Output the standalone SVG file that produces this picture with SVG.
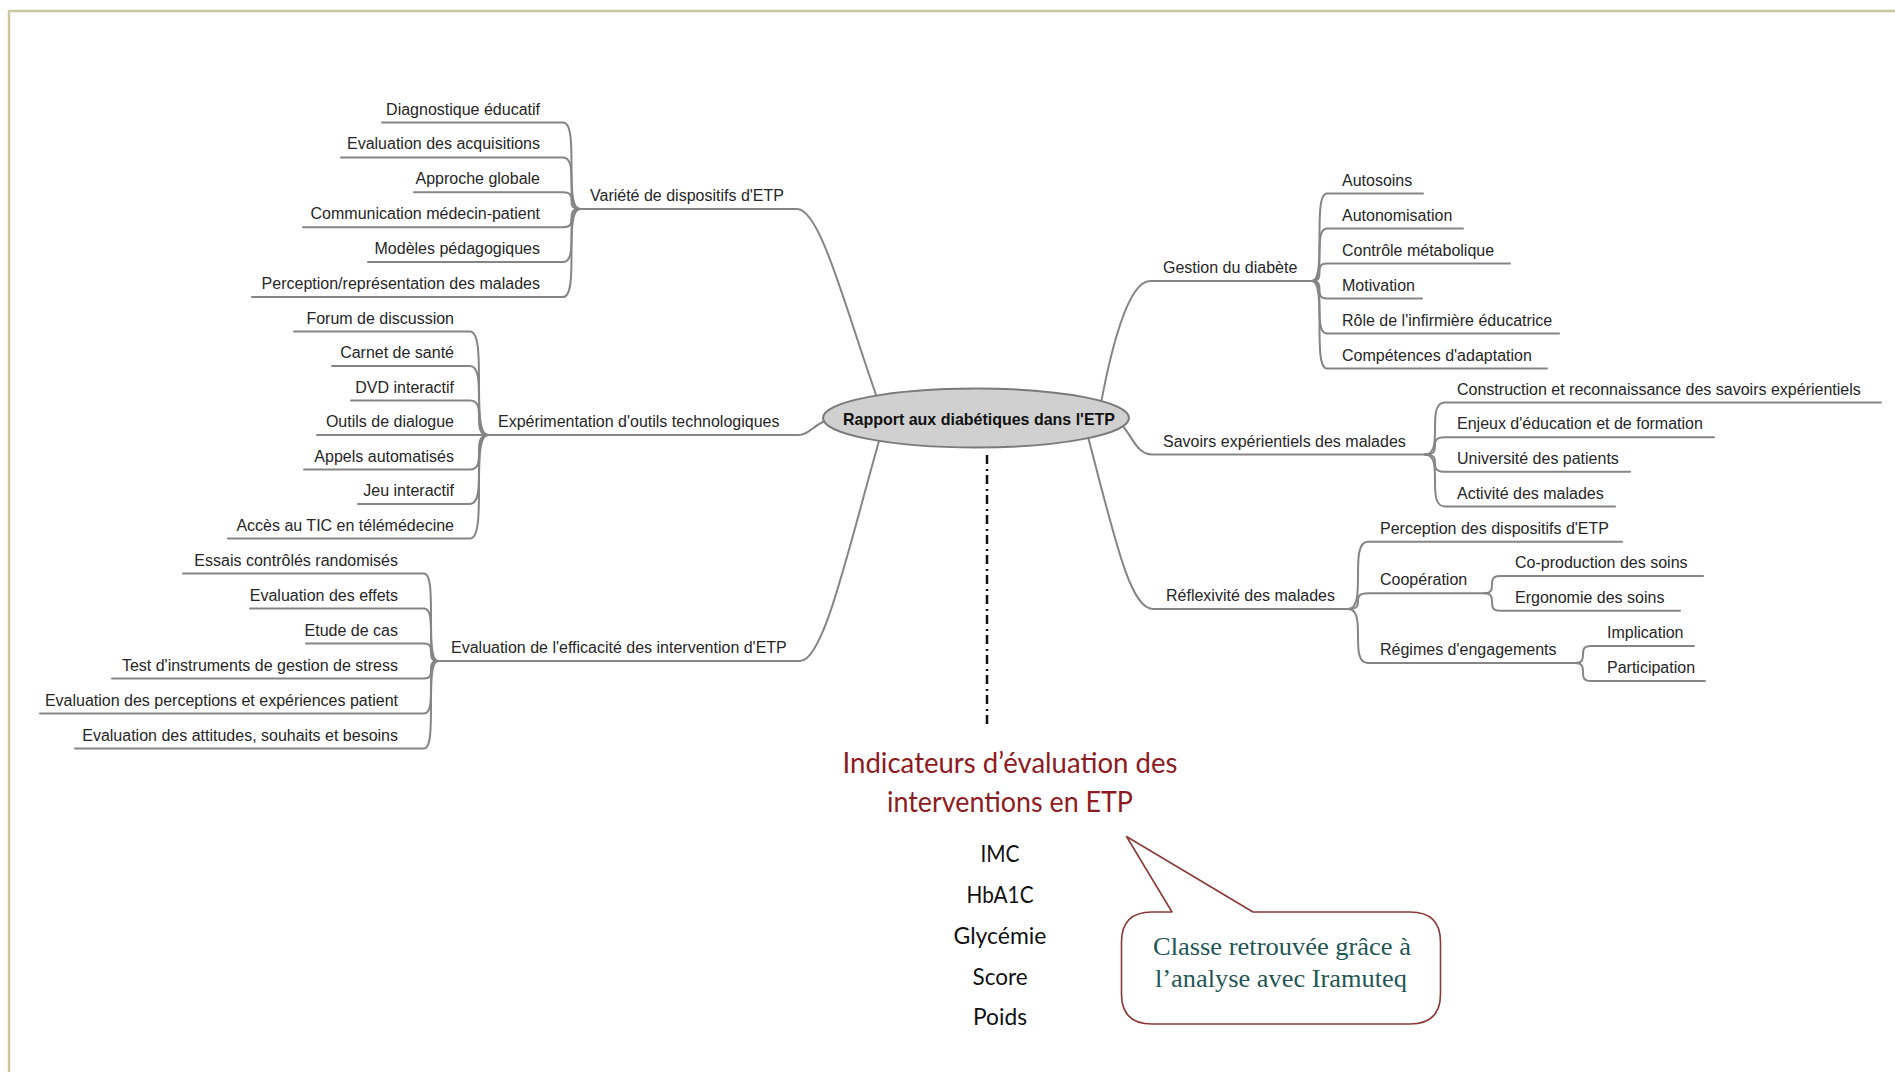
<svg xmlns="http://www.w3.org/2000/svg" width="1895" height="1072" viewBox="0 0 1895 1072">
<style>
.ln{fill:none;stroke:#858585;stroke-width:2;stroke-linecap:round}
.t{font-family:"Liberation Sans",Arial,sans-serif;font-size:16px;fill:#262626}
.e{text-anchor:end}
.root{font-family:"Liberation Sans",Arial,sans-serif;font-size:17px;font-weight:bold;fill:#111;text-anchor:middle}
.ind{font-family:Lato,"Open Sans",sans-serif;font-size:24px;fill:#111;text-anchor:middle}
.ttl{font-family:Lato,"Open Sans",sans-serif;font-size:28px;fill:#8e1b22;text-anchor:middle}
.cal{font-family:"Liberation Serif","Times New Roman",serif;font-size:26px;fill:#1f5656;text-anchor:middle}
</style>
<rect width="1895" height="1072" fill="#ffffff"/>
<polyline points="9,1072 9,11 1895,11" fill="none" stroke="#cdc7a3" stroke-width="2.5"/>

<g id="connectors">
<path class="ln" d="M580 209 H797 C822 209 848 320 885 420"/>
<path class="ln" d="M488 435 H798 C812 435 815 419 840 418"/>
<path class="ln" d="M438 661 H800 C825 661 850 540 885 420"/>
<path class="ln" d="M1098 420 C1110 350 1128 281 1150 281 H1312"/>
<path class="ln" d="M1110 418 C1130 422 1132 454.5 1152 454.5 H1425"/>
<path class="ln" d="M1085 425 C1115 540 1130 609 1153 609 H1348"/>
<path class="ln" d="M382 122.5 H563 C580 122.5 563 209 580 209"/>
<path class="ln" d="M341 157.4 H563 C580 157.4 563 209 580 209"/>
<path class="ln" d="M414 192.3 H563 C580 192.3 563 209 580 209"/>
<path class="ln" d="M303 227.2 H563 C580 227.2 563 209 580 209"/>
<path class="ln" d="M368 262.1 H563 C580 262.1 563 209 580 209"/>
<path class="ln" d="M252 297 H563 C580 297 563 209 580 209"/>
<path class="ln" d="M294 331.5 H470 C488 331.5 470 435 488 435"/>
<path class="ln" d="M332 366 H470 C488 366 470 435 488 435"/>
<path class="ln" d="M351 400.5 H470 C488 400.5 470 435 488 435"/>
<path class="ln" d="M317 435 H488"/>
<path class="ln" d="M304 469.5 H470 C488 469.5 470 435 488 435"/>
<path class="ln" d="M358 504 H470 C488 504 470 435 488 435"/>
<path class="ln" d="M228 538.5 H470 C488 538.5 470 435 488 435"/>
<path class="ln" d="M183 573.5 H424 C438 573.5 424 661 438 661"/>
<path class="ln" d="M250 608.5 H424 C438 608.5 424 661 438 661"/>
<path class="ln" d="M306 643.5 H424 C438 643.5 424 661 438 661"/>
<path class="ln" d="M112 678.5 H424 C438 678.5 424 661 438 661"/>
<path class="ln" d="M40 713.5 H424 C438 713.5 424 661 438 661"/>
<path class="ln" d="M75 748.5 H424 C438 748.5 424 661 438 661"/>
<path class="ln" d="M1312 281 C1327 281 1312 193.5 1327 193.5 H1423"/>
<path class="ln" d="M1312 281 C1327 281 1312 228.5 1327 228.5 H1463"/>
<path class="ln" d="M1312 281 C1327 281 1312 263.5 1327 263.5 H1510"/>
<path class="ln" d="M1312 281 C1327 281 1312 298.5 1327 298.5 H1422"/>
<path class="ln" d="M1312 281 C1327 281 1312 333.5 1327 333.5 H1559"/>
<path class="ln" d="M1312 281 C1327 281 1312 368.5 1327 368.5 H1547"/>
<path class="ln" d="M1425 454.5 C1445 454.5 1425 402.5 1445 402.5 H1881"/>
<path class="ln" d="M1425 454.5 C1445 454.5 1425 437.2 1445 437.2 H1714"/>
<path class="ln" d="M1425 454.5 C1445 454.5 1425 471.8 1445 471.8 H1630"/>
<path class="ln" d="M1425 454.5 C1445 454.5 1425 506.5 1445 506.5 H1615"/>
<path class="ln" d="M1348 609 C1368 609 1348 541.7 1368 541.7 H1622"/>
<path class="ln" d="M1348 609 C1368 609 1348 593.3 1368 593.3 H1484"/>
<path class="ln" d="M1348 609 C1368 609 1348 663 1368 663 H1575"/>
<path class="ln" d="M1484 593.3 C1500 593.3 1484 576 1500 576 H1703"/>
<path class="ln" d="M1484 593.3 C1500 593.3 1484 610.7 1500 610.7 H1680"/>
<path class="ln" d="M1575 663 C1591 663 1575 646 1591 646 H1694"/>
<path class="ln" d="M1575 663 C1591 663 1575 681 1591 681 H1705"/>
<line x1="987" y1="455" x2="987" y2="727" stroke="#111" stroke-width="2.5" stroke-dasharray="9 5 2 4"/>
</g>

<g id="root">
<ellipse cx="976" cy="418" rx="153" ry="29.5" fill="#d0d0d0" stroke="#7a7a7a" stroke-width="2"/>
<text class="root" x="979" y="425" textLength="272" lengthAdjust="spacingAndGlyphs">Rapport aux diabétiques dans l'ETP</text>
</g>

<g id="n-variete"><text class="t" x="590" y="201">Variété de dispositifs d'ETP</text></g>
<g id="n-diag"><text class="t e" x="540" y="114.5">Diagnostique éducatif</text></g>
<g id="n-evalacq"><text class="t e" x="540" y="149.4">Evaluation des acquisitions</text></g>
<g id="n-approche"><text class="t e" x="540" y="184.3">Approche globale</text></g>
<g id="n-comm"><text class="t e" x="540" y="219.2">Communication médecin-patient</text></g>
<g id="n-modeles"><text class="t e" x="540" y="254.1">Modèles pédagogiques</text></g>
<g id="n-percrep"><text class="t e" x="540" y="289">Perception/représentation des malades</text></g>

<g id="n-experim"><text class="t" x="498" y="427">Expérimentation d'outils technologiques</text></g>
<g id="n-forum"><text class="t e" x="454" y="323.5">Forum de discussion</text></g>
<g id="n-carnet"><text class="t e" x="454" y="358">Carnet de santé</text></g>
<g id="n-dvd"><text class="t e" x="454" y="392.5">DVD interactif</text></g>
<g id="n-outils"><text class="t e" x="454" y="427">Outils de dialogue</text></g>
<g id="n-appels"><text class="t e" x="454" y="461.5">Appels automatisés</text></g>
<g id="n-jeu"><text class="t e" x="454" y="496">Jeu interactif</text></g>
<g id="n-tic"><text class="t e" x="454" y="530.5">Accès au TIC en télémédecine</text></g>

<g id="n-evaleff"><text class="t" x="451" y="653">Evaluation de l'efficacité des intervention d'ETP</text></g>
<g id="n-essais"><text class="t e" x="398" y="565.5">Essais contrôlés randomisés</text></g>
<g id="n-effets"><text class="t e" x="398" y="600.5">Evaluation des effets</text></g>
<g id="n-etude"><text class="t e" x="398" y="635.5">Etude de cas</text></g>
<g id="n-test"><text class="t e" x="398" y="670.5">Test d'instruments de gestion de stress</text></g>
<g id="n-evalperc"><text class="t e" x="398" y="705.5">Evaluation des perceptions et expériences patient</text></g>
<g id="n-evalatt"><text class="t e" x="398" y="740.5">Evaluation des attitudes, souhaits et besoins</text></g>

<g id="n-gestion"><text class="t" x="1163" y="273">Gestion du diabète</text></g>
<g id="n-autosoins"><text class="t" x="1342" y="185.5">Autosoins</text></g>
<g id="n-autonom"><text class="t" x="1342" y="220.5">Autonomisation</text></g>
<g id="n-controle"><text class="t" x="1342" y="255.5">Contrôle métabolique</text></g>
<g id="n-motiv"><text class="t" x="1342" y="290.5">Motivation</text></g>
<g id="n-role"><text class="t" x="1342" y="325.5">Rôle de l'infirmière éducatrice</text></g>
<g id="n-compet"><text class="t" x="1342" y="360.5">Compétences d'adaptation</text></g>

<g id="n-savoirs"><text class="t" x="1163" y="446.5">Savoirs expérientiels des malades</text></g>
<g id="n-constr"><text class="t" x="1457" y="394.5">Construction et reconnaissance des savoirs expérientiels</text></g>
<g id="n-enjeux"><text class="t" x="1457" y="429.2">Enjeux d'éducation et de formation</text></g>
<g id="n-univ"><text class="t" x="1457" y="463.8">Université des patients</text></g>
<g id="n-activ"><text class="t" x="1457" y="498.5">Activité des malades</text></g>

<g id="n-reflex"><text class="t" x="1166" y="601">Réflexivité des malades</text></g>
<g id="n-percdisp"><text class="t" x="1380" y="533.7">Perception des dispositifs d'ETP</text></g>
<g id="n-coop"><text class="t" x="1380" y="585.3">Coopération</text></g>
<g id="n-coprod"><text class="t" x="1515" y="568">Co-production des soins</text></g>
<g id="n-ergo"><text class="t" x="1515" y="602.7">Ergonomie des soins</text></g>
<g id="n-regimes"><text class="t" x="1380" y="655">Régimes d'engagements</text></g>
<g id="n-implic"><text class="t" x="1607" y="638">Implication</text></g>
<g id="n-partic"><text class="t" x="1607" y="673">Participation</text></g>

<g id="indicators">
<text class="ttl" x="1010" y="773" textLength="335" lengthAdjust="spacingAndGlyphs">Indicateurs d’évaluation des</text>
<text class="ttl" x="1010" y="812" textLength="246" lengthAdjust="spacingAndGlyphs">interventions en ETP</text>
<text class="ind" x="1000" y="862" textLength="39" lengthAdjust="spacingAndGlyphs">IMC</text>
<text class="ind" x="1000" y="903" textLength="67" lengthAdjust="spacingAndGlyphs">HbA1C</text>
<text class="ind" x="1000" y="944" textLength="93" lengthAdjust="spacingAndGlyphs">Glycémie</text>
<text class="ind" x="1000" y="985" textLength="55" lengthAdjust="spacingAndGlyphs">Score</text>
<text class="ind" x="1000" y="1025" textLength="54" lengthAdjust="spacingAndGlyphs">Poids</text>
</g>

<g id="callout">
<path d="M1152 912 L1172 912 L1126.5 836.5 L1253 912 L1410 912 Q1440.5 912 1440.5 942 L1440.5 994 Q1440.5 1024 1410 1024 L1152 1024 Q1121.5 1024 1121.5 994 L1121.5 942 Q1121.5 912 1152 912 Z" fill="#ffffff" stroke="#8b3a3a" stroke-width="1.6" stroke-linejoin="round"/>
<text class="cal" x="1282" y="955" textLength="258" lengthAdjust="spacingAndGlyphs">Classe retrouvée grâce à</text>
<text class="cal" x="1281" y="987" textLength="252" lengthAdjust="spacingAndGlyphs">l’analyse avec Iramuteq</text>
</g>
</svg>
